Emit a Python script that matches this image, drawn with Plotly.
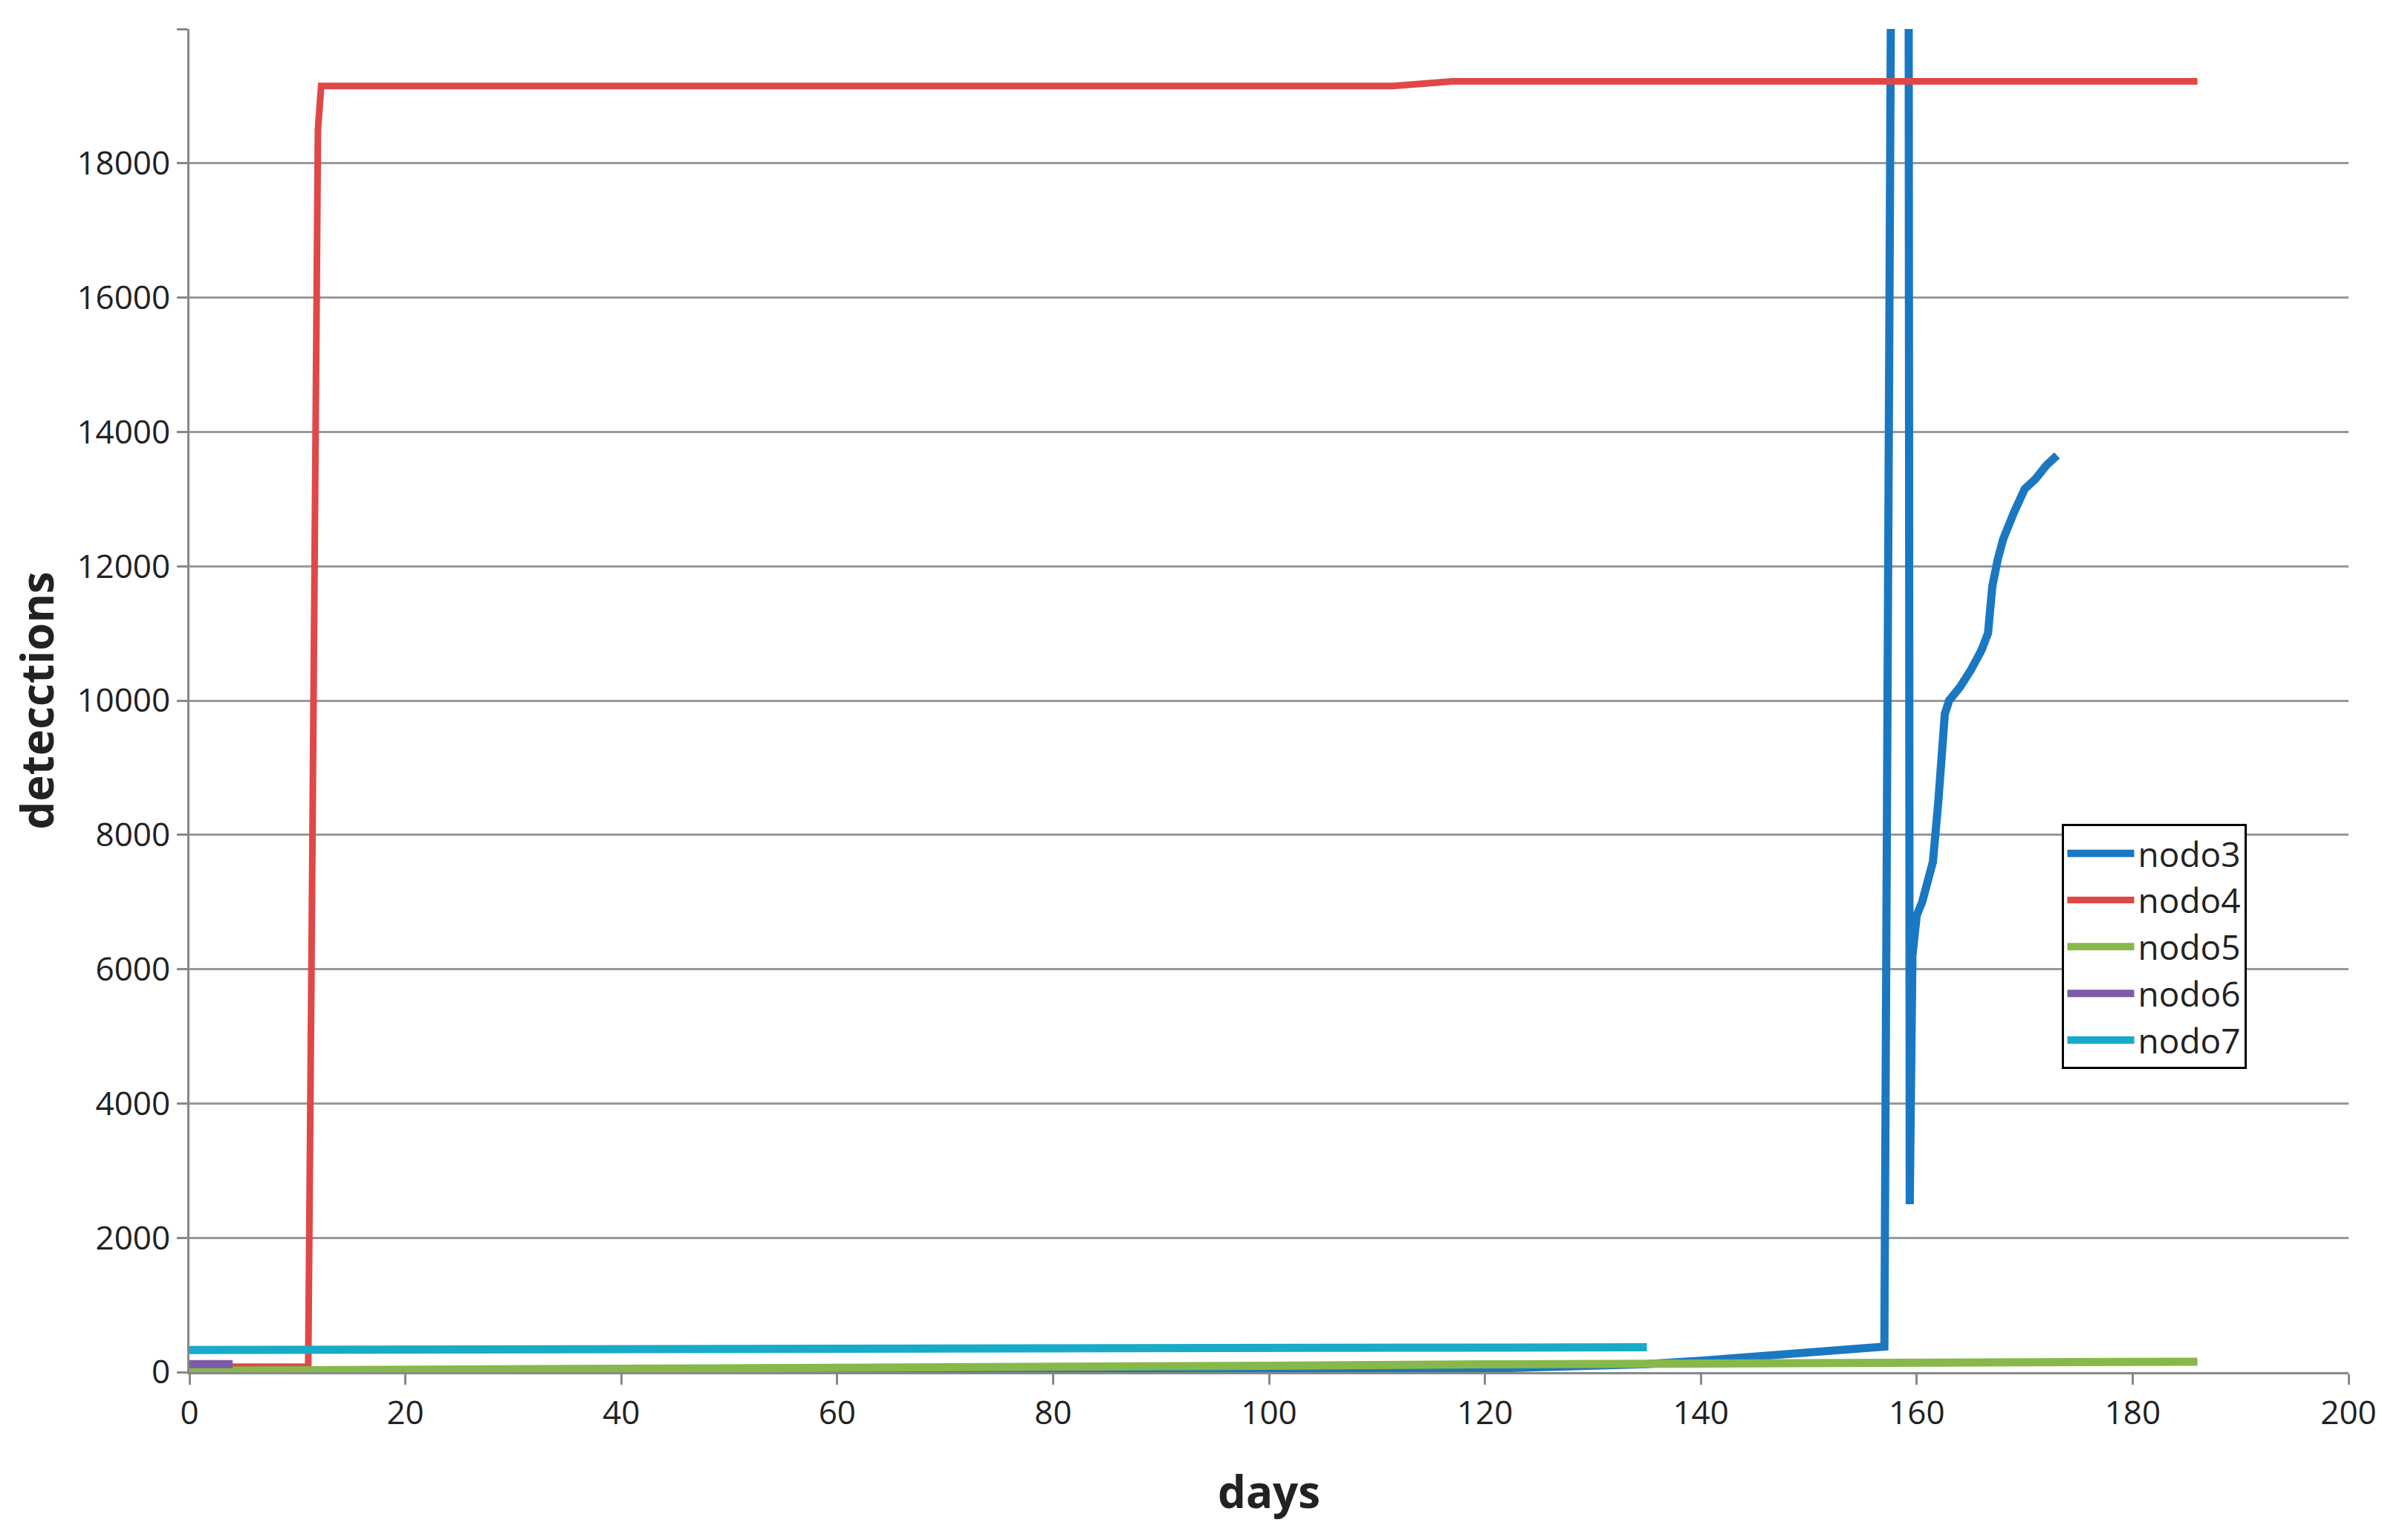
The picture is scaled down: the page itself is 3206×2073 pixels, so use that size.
import plotly.graph_objects as go

# values
nodo3_days = [0, 20, 40, 60, 80, 100, 120, 130, 135, 140, 150, 157, 157.9, 159.2, 159.35, 159.6,
              160, 160.5, 161, 161.5, 162, 162.3, 162.6, 163, 164, 165, 166, 166.6, 167, 167.5,
              168, 169, 170, 171, 172, 173]
nodo3 = [0, 0, 5, 10, 20, 30, 50, 80, 120, 170, 280, 380, 30000, 30000, 2500, 6200,
         6800, 7000, 7300, 7600, 8500, 9400, 9800, 10000, 10200, 10450, 10750, 11000, 11700, 12100,
         12400, 12800, 13150, 13300, 13500, 13650]

nodo4_days = [0, 11, 11.3, 11.6, 11.9, 12.2, 111.5, 117, 186]
nodo4 = [80, 80, 6000, 14000, 18500, 19150, 19150, 19220, 19220]

nodo5_days = [0, 20, 40, 60, 80, 100, 120, 140, 160, 186]
nodo5 = [20, 30, 45, 60, 75, 95, 115, 135, 145, 155]

nodo6_days = [0, 4]
nodo6 = [120, 120]

nodo7_days = [0, 20, 60, 100, 130, 134, 135]
nodo7 = [330, 335, 335, 335, 340, 360, 370]

series = [
    ("nodo3", nodo3_days, nodo3, "#1a78c2", 11),
    ("nodo4", nodo4_days, nodo4, "#e04848", 9),
    ("nodo5", nodo5_days, nodo5, "#86b94a", 11),
    ("nodo6", nodo6_days, nodo6, "#7d5ca6", 11),
    ("nodo7", nodo7_days, nodo7, "#17abc8", 11),
]

fig = go.Figure()
for name, xs, ys, color, w in series:
    fig.add_trace(go.Scatter(x=xs, y=ys, name=name, mode="lines",
                             line=dict(color=color, width=w)))

axis_font = dict(family="Open Sans", size=44, color="#222")
fig.update_layout(
    width=3206, height=2073,
    paper_bgcolor="white", plot_bgcolor="white",
    margin=dict(l=247, r=53, t=31, b=234),
    font=dict(family="Open Sans"),
    xaxis=dict(range=[0, 200], dtick=20, tickfont=axis_font, showgrid=False,
               showline=True, linecolor="#888", linewidth=3, ticks="outside",
               tickcolor="#888", ticklen=14, tickwidth=3,
               title=dict(text="<b>days</b>", font=dict(size=60, color="#222"), standoff=60)),
    yaxis=dict(range=[0, 20000], dtick=2000, tickformat="d", tickfont=axis_font, showgrid=True,
               gridcolor="#999", gridwidth=3, zeroline=False,
               showline=True, linecolor="#888", linewidth=3, ticks="outside",
               tickcolor="#888", ticklen=14, tickwidth=3,
               title=dict(text="<b>detecctions</b>", font=dict(size=60, color="#222"), standoff=30)),
    legend=dict(x=0.867, y=0.408, xanchor="left", yanchor="top",
                bordercolor="black", borderwidth=3, bgcolor="white",
                font=dict(size=46, color="#222"), itemwidth=90, tracegroupgap=0),
)

fig.write_html("out.html")
